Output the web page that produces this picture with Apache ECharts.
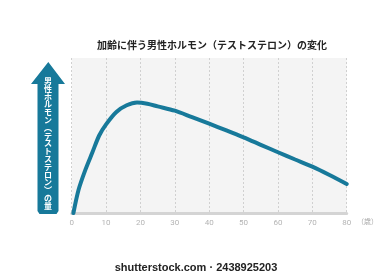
<!DOCTYPE html>
<html>
<head>
<meta charset="utf-8">
<script src="https://cdn.jsdelivr.net/npm/echarts@6/dist/echarts.min.js"></script>
<style>
  html, body { margin: 0; padding: 0; background: #fff; }
  #chart { width: 392px; height: 280px; }
</style>
</head>
<body>
<div id="chart"></div>
<script>
// 年齢（歳）とテストステロン量（相対値）
var ages = [0.5, 2, 4, 6, 8, 10, 13, 16, 19, 22, 25, 30, 35, 40, 45, 50, 55, 60, 65, 70, 75, 80];
var levels = [0, 15, 28, 39, 50, 57.2, 65.2, 69.5, 71.3, 70.5, 68.8, 66, 61.8, 57.6, 53.3, 48.8, 44, 39.2, 34.5, 29.9, 24.5, 18.7];
var xTicks = [0, 10, 20, 30, 40, 50, 60, 70, 80];

var titleText = '加齢に伴う男性ホルモン（テストステロン）の変化';
var yLabel = '男性ホルモン︵テストステロン︶の量';

var blue = '#17799a';
var font = '"Noto Sans CJK JP", "Noto Sans", sans-serif';

var chart = echarts.init(document.getElementById('chart'));

var points = ages.map(function (a, i) { return [a, levels[i]]; });

var option = {
  animation: false,
  title: {
    text: titleText,
    left: 207,
    top: 35,
    textAlign: 'center',
    textStyle: { fontSize: 10, fontWeight: 'bold', color: '#222', fontFamily: font }
  },
  grid: {
    left: 71.7, right: 45.3, top: 58, bottom: 67,
    show: true, backgroundColor: '#f4f4f4', borderWidth: 0
  },
  xAxis: {
    type: 'value',
    min: 0, max: 80, interval: 10,
    name: '（歳）',
    nameLocation: 'end',
    nameGap: 3,
    nameTextStyle: { color: '#aaa', fontSize: 7, fontFamily: font, verticalAlign: 'top', padding: [5, 0, 0, 0] },
    axisLine: { show: true, lineStyle: { color: '#d4d4d4', width: 3 } },
    axisTick: { show: false },
    axisLabel: { color: '#b4b4b4', fontSize: 8, margin: 6, fontFamily: 'Roboto, sans-serif' },
    splitLine: { show: true, lineStyle: { color: '#d0d0d0', type: [2, 2], width: 1 } }
  },
  yAxis: {
    type: 'value',
    min: 0, max: 100,
    show: false,
    splitLine: { show: false }
  },
  series: [{
    type: 'line',
    data: points,
    smooth: 0.3,
    showSymbol: false,
    lineStyle: { color: blue, width: 4, cap: 'round' }
  }],
  graphic: [
    {
      type: 'polygon',
      shape: {
        points: [[48.3, 62], [65, 84], [58.5, 84], [58.5, 211], [56.5, 214], [39.5, 214], [37.5, 211], [37.5, 84], [31, 84]]
      },
      style: { fill: blue }
    },
    {
      type: 'text',
      x: 48,
      y: 77,
      style: {
        text: yLabel.split('').join('\n'),
        fill: '#fff',
        font: 'bold 8px ' + font,
        lineHeight: 7.8,
        align: 'center',
        verticalAlign: 'top'
      }
    },
    {
      type: 'text',
      x: 196,
      y: 262,
      style: {
        text: 'shutterstock.com · 2438925203',
        fill: '#222',
        font: 'bold 11px "Liberation Sans", sans-serif',
        align: 'center',
        verticalAlign: 'top'
      }
    }
  ]
};

chart.setOption(option);
</script>
</body>
</html>
